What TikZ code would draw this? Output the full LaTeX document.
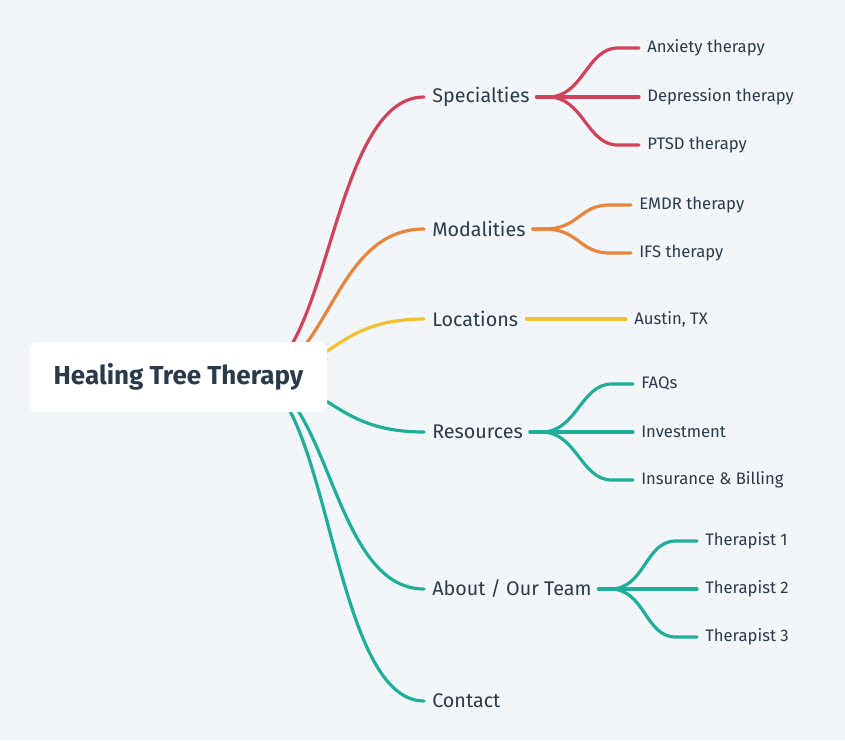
\documentclass[tikz,border=0pt]{standalone}
\usepackage{fontspec}
\setmainfont{Fira Sans}
\definecolor{bg}{HTML}{F3F6F9}
\definecolor{dotc}{HTML}{C9D1DA}
\definecolor{txt}{HTML}{2B3A4A}
\definecolor{cred}{HTML}{D0435A}
\definecolor{cora}{HTML}{E8853D}
\definecolor{cyel}{HTML}{F2C12E}
\definecolor{ctea}{HTML}{1FAE9A}
\begin{document}
\begin{tikzpicture}[x=0.75pt,y=-0.75pt,
  main/.style={anchor=west,text=txt,font=\fontsize{14.8}{17}\selectfont,inner sep=0pt},
  sub/.style={anchor=west,text=txt,font=\fontsize{12.5}{14}\selectfont,inner sep=0pt},
  br/.style={line width=2.4pt,line cap=round}]
\fill[bg] (0,0) rectangle (845,740);
\useasboundingbox (0,0) rectangle (845,740);
\foreach \i in {0,...,52}{\foreach \j in {0,...,46}{\fill[dotc] (\i*16+8,\j*16+8) circle (0.6pt);}}
% main label nodes
\node[main] (spec) at (432,97) {Specialties};
\node[main] (moda) at (432,229) {Modalities};
\node[main] (loca) at (432,319) {Locations};
\node[main] (reso) at (432,432) {Resources};
\node[main] (abou) at (432,589) {About / Our Team};
\node[main] (cont) at (432,701) {Contact};
\coordinate (r) at (250,377);
\foreach \n/\c/\y in {spec/cred/97,moda/cora/229,loca/cyel/319,reso/ctea/432,abou/ctea/589,cont/ctea/701}{
  \draw[br,\c] (r) .. controls (330,377) and (330,\y) .. ([xshift=-6pt]\n.west);
}
% children
\node[sub] (anx) at (647,48) {Anxiety therapy};
\node[sub] (dep) at (647,97) {Depression therapy};
\node[sub] (pts) at (647,145) {PTSD therapy};
\node[sub] (emd) at (639,205) {EMDR therapy};
\node[sub] (ifs) at (639,253) {IFS therapy};
\node[sub] (aus) at (634,319) {Austin, TX};
\node[sub] (faq) at (641,384) {FAQs};
\node[sub] (inv) at (641,432) {Investment};
\node[sub] (ins) at (641,480) {Insurance \& Billing};
\node[sub] (t1) at (705,541) {Therapist 1};
\node[sub] (t2) at (705,589) {Therapist 2};
\node[sub] (t3) at (705,637) {Therapist 3};
\foreach \p/\k/\c in {spec/anx/cred,spec/dep/cred,spec/pts/cred,moda/emd/cora,moda/ifs/cora,reso/faq/ctea,reso/inv/ctea,reso/ins/ctea,abou/t1/ctea,abou/t2/ctea,abou/t3/ctea}{
  \draw[br,\c] ([xshift=5pt]\p.east) -- ++(12,0) .. controls ([xshift=40,yshift=0]\p.east) and ([xshift=-45]\k.west) .. ([xshift=-22]\k.west) -- ([xshift=-6]\k.west);
}
\draw[br,cyel] ([xshift=6pt]loca.east) -- ([xshift=-6pt]aus.west);
% root
\node[fill=white,rounded corners=5pt,minimum width=297*0.75pt,minimum height=70*0.75pt,text=txt,font=\fontsize{19.5}{23}\bfseries] (root) at (178.5,377) {Healing Tree Therapy};
\end{tikzpicture}
\end{document}
